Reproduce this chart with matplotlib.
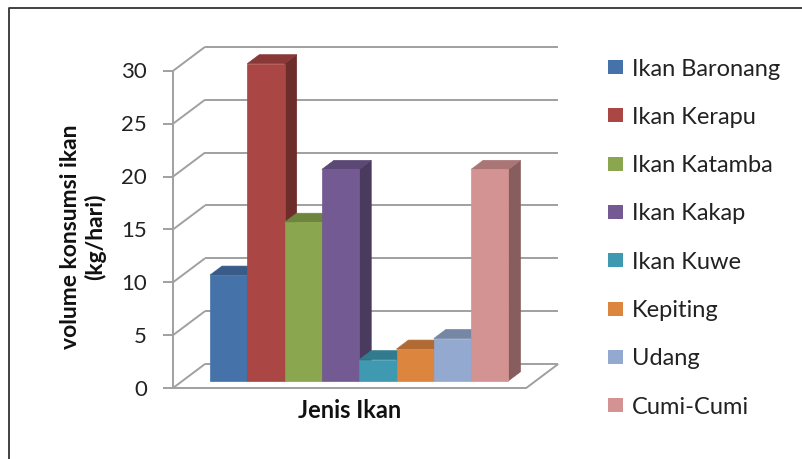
import matplotlib.pyplot as plt
from matplotlib.patches import Polygon, Rectangle
from matplotlib.lines import Line2D
from matplotlib.colors import to_rgb

jenis = ['Ikan Baronang', 'Ikan Kerapu', 'Ikan Katamba', 'Ikan Kakap',
         'Ikan Kuwe', 'Kepiting', 'Udang', 'Cumi-Cumi']
volume = [10, 30, 15, 20, 2, 3, 4, 20]
warna = ['#4672AA', '#AA4643', '#8AA64E', '#735A92',
         '#3F99B0', '#DC853E', '#93A9D0', '#D39392']
yticks = [0, 5, 10, 15, 20, 25, 30]

plt.rcParams['font.family'] = ['Lato', 'DejaVu Sans']

W, H = 802, 459
fig = plt.figure(figsize=(W / 100, H / 100), dpi=100)
ax = fig.add_axes([0, 0, 1, 1])
ax.axis('off')

# pixel scale of the fake 3d box
sx, sv = 37.3, 10.57        # px per category, px per kg
x0, y0 = 173, 388           # front-left-bottom corner in px
ax.set_xlim(-x0 / sx, (W - x0) / sx)
ax.set_ylim(-(H - y0) / sv, y0 / sv)

dx, dv = 32 / sx, 24 / sv   # full depth of the floor
gap = 0.735
L = len(volume) + 2 * gap
d0, d1 = 0.3, 0.675         # bars sit between these depths


def P(x, v, d):
    return (x + d * dx, v + d * dv)


def shade(c, f):
    r, g, b = to_rgb(c)
    return (r * f, g * f, b * f)


grid = dict(color='#A0A0A0', lw=1.4, zorder=1, solid_capstyle='butt')
for t in yticks:
    a, b = P(0, t, 1), P(L, t, 1)
    ax.plot([a[0], b[0]], [a[1], b[1]], **grid)
    ax.plot([0, dx], [t, t + dv], **grid)
    ax.plot([-10 / sx, 0], [t, t], **grid)
    ax.text(-26 / sx, t - 7.5 / sv, str(t), ha='right', va='baseline',
            fontsize=16, color='#222222')
ax.plot([0, 0], [0, max(yticks)], **grid)
ax.plot([0, L, L + dx], [0, 0, dv], **grid)

# bars, left to right so each one hides the side of the previous
for i, (h, c) in enumerate(zip(volume, warna)):
    x = gap + i
    front = [P(x, 0, d0), P(x + 1, 0, d0), P(x + 1, h, d0), P(x, h, d0)]
    top = [P(x, h, d0), P(x + 1, h, d0), P(x + 1, h, d1), P(x, h, d1)]
    side = [P(x + 1, 0, d0), P(x + 1, 0, d1), P(x + 1, h, d1), P(x + 1, h, d0)]
    z = 2 + i
    ax.add_patch(Polygon(side, closed=True, fc=shade(c, 0.64), ec=shade(c, 0.64), lw=0.5, zorder=z))
    ax.add_patch(Polygon(top, closed=True, fc=shade(c, 0.8), ec=shade(c, 0.8), lw=0.5, zorder=z))
    ax.add_patch(Polygon(front, closed=True, fc=c, ec=c, lw=0.5, zorder=z))

# legend
for i, (nama, c) in enumerate(zip(jenis, warna)):
    yc = 67 + 48.3 * i
    v = (y0 - yc) / sv
    ax.add_patch(Rectangle(((608 - x0) / sx, v - 7 / sv), 15 / sx, 14 / sv,
                           fc=c, ec='none', zorder=5))
    ax.text((632 - x0) / sx, v - 8.5 / sv, nama, ha='left', va='baseline',
            fontsize=17, color='#222222')

ax.text(-(x0 - 83) / sx, (y0 - 237) / sv, 'volume konsumsi ikan\n(kg/hari)',
        rotation=90, ha='center', va='center', multialignment='center',
        fontsize=16.5, fontweight='bold', linespacing=1.2, color='#111111')
ax.text((350 - x0) / sx, (y0 - 411) / sv, 'Jenis Ikan', ha='center', va='center',
        fontsize=17, fontweight='bold', color='#111111')

# chart border (left and top edges visible)
fig.add_artist(Line2D([9 / W, 9 / W, 1], [0, 1 - 8 / H, 1 - 8 / H],
                      transform=fig.transFigure, color='#333333', lw=1.3))

fig.savefig('out.png', dpi=100)
